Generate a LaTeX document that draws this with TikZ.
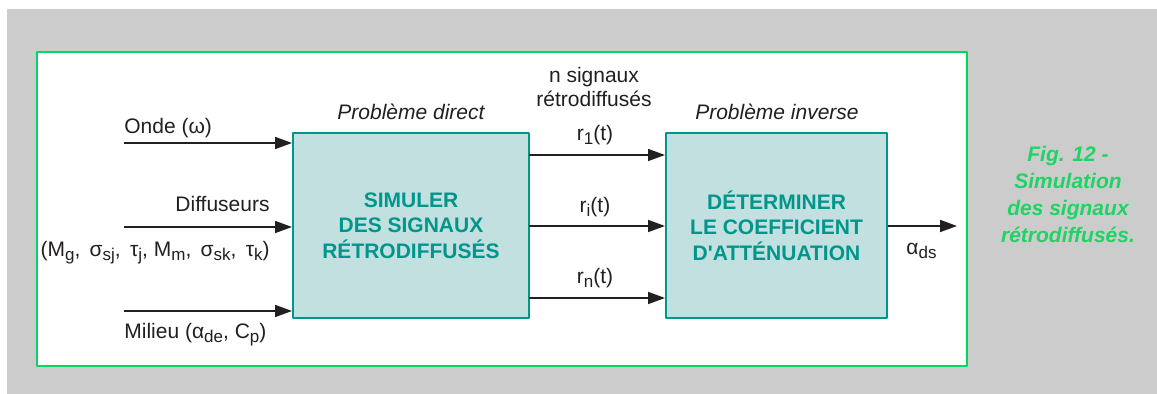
\documentclass[tikz,border=0pt]{standalone}
\usepackage{fontspec}
\setmainfont{Liberation Sans}
\usetikzlibrary{arrows.meta}
\definecolor{fondgris}{RGB}{204,204,204}
\definecolor{vertcadre}{RGB}{0,214,100}
\definecolor{vertlegende}{RGB}{30,212,100}
\definecolor{bleuboite}{RGB}{194,224,224}
\definecolor{sarcelle}{RGB}{0,150,140}
\definecolor{encre}{RGB}{35,31,32}
% indice abaisse, a la maniere des schemas d'origine
\newcommand{\ind}[1]{\raisebox{-2pt}{\fontsize{8.5}{8.5}\selectfont #1}}
\tikzset{
	bloc/.style={draw=sarcelle,line width=1pt,fill=bleuboite,text=sarcelle,
		font=\fontsize{10.5}{12.75}\selectfont\bfseries,align=center,inner sep=0pt},
	fleche/.style={draw=encre,line width=0.85pt,-{Triangle[length=8.5pt,width=6pt]}},
	etiq/.style={text=encre,inner sep=0pt,font=\fontsize{10.5}{12.75}\selectfont},
}
\begin{document}
\begin{tikzpicture}[x=0.5pt,y=-0.5pt,line join=round]
	\useasboundingbox (0,0) rectangle (1157,394);
	\fill[fondgris] (7,9) rectangle (1157,394);
	\draw[vertcadre,fill=white,line width=0.75pt] (37,52) rectangle (967,366);
	% les deux blocs
	\node[bloc,minimum width=118pt,minimum height=92.5pt] (sim) at (411,225.5)
		{SIMULER\\DES SIGNAUX\\RÉTRODIFFUSÉS};
	\node[bloc,minimum width=110.5pt,minimum height=92.5pt] (det) at (776.5,225.5)
		{DÉTERMINER\\LE COEFFICIENT\\D\textquotesingle ATTÉNUATION};
	\node[etiq,anchor=base,font=\fontsize{10.5}{12.75}\selectfont\itshape] (direct) at (411,120) {Problème direct};
	\node[etiq,anchor=base,font=\fontsize{10.5}{12.75}\selectfont\itshape] (inverse) at (777,120) {Problème inverse};
	% entrees
	\coordinate (onde) at (124,143);
	\coordinate (diff) at (124,227);
	\coordinate (milieu) at (124,311);
	\draw[fleche] (onde) -- (onde -| sim.west);
	\draw[fleche] (diff) -- (diff -| sim.west);
	\draw[fleche] (milieu) -- (milieu -| sim.west);
	\node[etiq,anchor=base west] (tonde) at (124,134) {Onde (ω)};
	\node[etiq,anchor=base east] (tdiff) at (270,212) {Diffuseurs};
	\node[etiq,anchor=base east] (tparam) at (270,257)
		{(M\ind{g}, \,σ\ind{sj}, \,τ\ind{j}, M\ind{m}, \,σ\ind{sk}, \,τ\ind{k})};
	\node[etiq,anchor=base west] (tmilieu) at (124,339) {Milieu (α\ind{de}, C\ind{p})};
	% signaux retrodiffuses
	\foreach \y/\nom/\txt/\b in {155/r1/1/141,226/ri/i/213,298/rn/n/284}{
		\coordinate (\nom) at (529,\y);
		\draw[fleche] (\nom) -- (\nom -| det.west);
		\node[etiq,anchor=base] at (595,\b) {r\ind{\txt}(t)};
	}
	\node[etiq,anchor=base] (nsig) at (594,83) {n signaux};
	\node[etiq,anchor=base] (retro) at (594,107) {rétrodiffusés};
	% sortie
	\coordinate (sortie) at (957,226);
	\draw[fleche] (det.east |- sortie) -- (sortie);
	\node[etiq,anchor=base west] (tsortie) at (906,255) {α\ind{ds}};
	% legende
	\node[text=vertlegende,align=center,inner sep=0pt,
		font=\fontsize{10.5}{13.5}\selectfont\bfseries\itshape] (legende) at (1068,195)
		{Fig. 12 -\\Simulation\\des signaux\\rétrodiffusés.};
\end{tikzpicture}
\end{document}
